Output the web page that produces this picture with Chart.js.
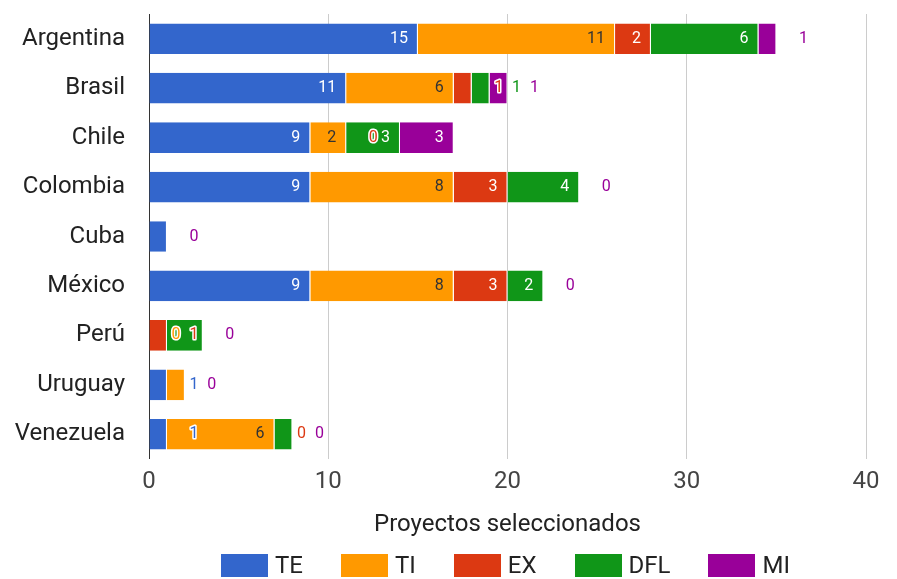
<!DOCTYPE html>
<html>
<head>
<meta charset="utf-8">
<script src="https://cdn.jsdelivr.net/npm/chart.js@4.4.1/dist/chart.umd.min.js"></script>
<style>
html,body{margin:0;padding:0;background:#fff;}
#wrap{width:897px;height:579px;position:relative;}
</style>
</head>
<body>
<div id="wrap"><canvas id="c" width="897" height="579"></canvas></div>
<script>
// ---- data ----
const categories = ['Argentina','Brasil','Chile','Colombia','Cuba','México','Perú','Uruguay','Venezuela'];
const seriesNames = ['TE','TI','EX','DFL','MI'];
const TE  = [15, 11, 9, 9, 1, 9, 0, 1, 1];
const TI  = [11,  6, 2, 8, 0, 8, 0, 1, 6];
const EX  = [ 2,  1, 0, 3, 0, 3, 1, 0, 0];
const DFL = [ 6,  1, 3, 4, 0, 2, 2, 0, 1];
const MI  = [ 1,  1, 3, 0, 0, 0, 0, 0, 0];
const xTicks = [0, 10, 20, 30, 40];
const axisTitle = 'Proyectos seleccionados';

const seriesValues = [TE, TI, EX, DFL, MI];
const seriesColors = ['#3366cc', '#ff9900', '#dc3912', '#109618', '#990099'];
const insideTextColors = ['#ffffff', '#333333', '#ffffff', '#ffffff', '#ffffff'];

const FONT = 'Roboto';

// value labels, Google-Charts-like: inside when it fits, else outside with halo
const valueLabels = {
  id: 'valueLabels',
  afterDatasetsDraw(chart) {
    const ctx = chart.ctx;
    ctx.save();
    ctx.font = '16px ' + FONT;
    ctx.textBaseline = 'middle';
    const PAD_IN = 10, OUT_OFF = 27;
    for (let i = 0; i < categories.length; i++) {
      const segs = chart.data.datasets.map((ds, d) => {
        const el = chart.getDatasetMeta(d).data[i];
        const v = ds.data[i];
        const txt = String(v);
        const tw = ctx.measureText(txt).width;
        const left = Math.min(el.x, el.base), right = Math.max(el.x, el.base);
        return {d, v, txt, tw, left, right, y: el.y, fits: (right - left) >= tw + PAD_IN + 3};
      });
      const placed = [];
      for (let k = segs.length - 1; k >= 0; k--) {
        const s = segs[k];
        if (s.fits) continue;
        const cx = s.right + OUT_OFF;
        const r = {a: cx - s.tw / 2 - 1, b: cx + s.tw / 2 + 1, s, cx};
        if (placed.some(p => !(r.b <= p.a || r.a >= p.b))) continue;
        placed.push(r);
      }
      segs.forEach(s => {
        if (!s.fits) return;
        const b = s.right - PAD_IN, a = b - s.tw;
        if (placed.some(p => !(b <= p.a || a >= p.b))) return;
        ctx.textAlign = 'right';
        ctx.fillStyle = insideTextColors[s.d];
        ctx.fillText(s.txt, b, s.y);
      });
      placed.forEach(p => {
        ctx.textAlign = 'center';
        ctx.lineWidth = 3;
        ctx.lineJoin = 'round';
        ctx.strokeStyle = '#ffffff';
        ctx.strokeText(p.s.txt, p.cx, p.s.y);
        ctx.fillStyle = seriesColors[p.s.d];
        ctx.fillText(p.s.txt, p.cx, p.s.y);
      });
    }
    ctx.restore();
  }
};

const customLegend = {
  id: 'customLegend',
  afterDraw(chart) {
    const ctx = chart.ctx, ca = chart.chartArea;
    ctx.save();
    ctx.font = '24px ' + FONT;
    const boxW = 47, boxH = 23, gapBT = 7, gapItem = 38;
    const items = chart.data.datasets.map(ds => ({text: ds.label, color: ds.backgroundColor, w: ctx.measureText(ds.label).width}));
    const total = items.reduce((a, it) => a + boxW + gapBT + it.w, 0) + gapItem * (items.length - 1);
    let x = (ca.left + ca.right) / 2 - total / 2 - 2;
    const cy = chart.height - 13.5;
    items.forEach(it => {
      ctx.fillStyle = it.color;
      ctx.fillRect(Math.round(x), Math.round(cy - boxH / 2), boxW, boxH);
      ctx.fillStyle = '#222';
      ctx.textBaseline = 'middle';
      ctx.textAlign = 'left';
      ctx.fillText(it.text, x + boxW + gapBT, cy + 1);
      x += boxW + gapBT + it.w + gapItem;
    });
    ctx.restore();
  }
};

function build() {
  Chart.defaults.font.family = FONT;
  new Chart(document.getElementById('c'), {
    type: 'bar',
    data: {
      labels: categories,
      datasets: seriesNames.map((n, k) => ({
        label: n,
        data: seriesValues[k],
        backgroundColor: seriesColors[k],
        borderColor: '#ffffff',
        borderWidth: {left: 0, right: 1, top: 0, bottom: 0},
        borderSkipped: false,
        barPercentage: 0.62,
        categoryPercentage: 1.0
      }))
    },
    options: {
      indexAxis: 'y',
      responsive: false,
      animation: false,
      devicePixelRatio: 1,
      layout: {padding: {top: 14, right: 31, left: 0, bottom: 0}},
      plugins: {legend: {display: false}, tooltip: {enabled: false}},
      scales: {
        x: {
          stacked: true,
          min: xTicks[0],
          max: xTicks[xTicks.length - 1],
          afterBuildTicks(scale) { scale.ticks = xTicks.map(v => ({value: v})); },
          grid: {
            color: c => (c.tick && c.tick.value === 0) ? '#333333' : '#cccccc',
            drawTicks: false,
            lineWidth: 1
          },
          border: {display: false},
          ticks: {font: {size: 24}, color: '#444444', padding: 9},
          title: {display: true, text: axisTitle, font: {size: 24}, color: '#222222', padding: {top: 0, bottom: 40}},
          afterFit(scale) { scale.height = 120; scale.paddingLeft = 0; scale.paddingRight = 0; }
        },
        y: {
          stacked: true,
          grid: {display: false, drawTicks: false},
          border: {display: false},
          ticks: {font: {size: 24}, color: '#222222', padding: 24},
          afterFit(scale) { scale.width = 149; scale.paddingTop = 0; scale.paddingBottom = 0; }
        }
      }
    },
    plugins: [valueLabels, customLegend]
  });
}

if (document.fonts && document.fonts.load) {
  Promise.all([document.fonts.load('24px Roboto'), document.fonts.load('16px Roboto')]).then(build, build);
} else { build(); }
</script>
</body>
</html>
